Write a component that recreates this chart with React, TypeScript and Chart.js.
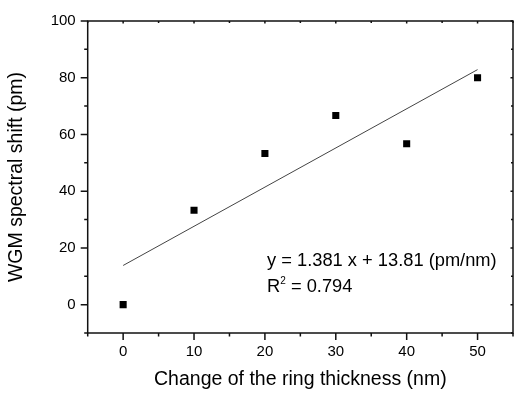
import React, { useEffect, useRef } from "react";
import { Chart, registerables } from "chart.js";

Chart.register(...registerables);

// Data
const thickness = [0, 10, 20, 30, 40, 50];
const shift = [0, 33.3, 53.3, 66.7, 56.7, 80];
const fitX = [0, 50];
const fitY = [13.81, 82.86];

// Axis ticks
const xMajor = [0, 10, 20, 30, 40, 50];
const xMinor = [-5, 5, 15, 25, 35, 45, 55];
const yMajor = [0, 20, 40, 60, 80, 100];
const yMinor = [-10, 10, 30, 50, 70, 90];

const xTitle = "Change of the ring thickness (nm)";
const yTitle = "WGM spectral shift (pm)";
const eqLine1 = "y = 1.381 x + 13.81 (pm/nm)";
const eqLine2a = "R";
const eqLine2sup = "2";
const eqLine2b = " = 0.794";
const eqAnchor = { x: 20.3, y: 13.7 };

const FONT = "'Liberation Sans', Arial, sans-serif";

const framePlugin = {
  id: "frame",
  afterDraw(chart: any) {
    const { ctx, chartArea: ca, scales } = chart;
    const xs = scales.x;
    const ys = scales.y;
    ctx.save();
    ctx.strokeStyle = "#111";
    ctx.lineWidth = 1.5;
    ctx.strokeRect(ca.left, ca.top, ca.right - ca.left, ca.bottom - ca.top);
    ctx.beginPath();
    const tickX = (v: number, len: number, inLen: number) => {
      const px = xs.getPixelForValue(v);
      ctx.moveTo(px, ca.bottom);
      ctx.lineTo(px, ca.bottom + len);
      ctx.moveTo(px, ca.top);
      ctx.lineTo(px, ca.top + inLen);
    };
    const tickY = (v: number, len: number, inLen: number) => {
      const py = ys.getPixelForValue(v);
      ctx.moveTo(ca.left, py);
      ctx.lineTo(ca.left - len, py);
      ctx.moveTo(ca.right, py);
      ctx.lineTo(ca.right - inLen, py);
    };
    xMajor.forEach((v) => tickX(v, 7, 2.5));
    xMinor.forEach((v) => tickX(v, 3.5, 2));
    yMajor.forEach((v) => tickY(v, 7, 2.5));
    yMinor.forEach((v) => tickY(v, 3.5, 2));
    ctx.stroke();

    // equation annotation
    const ax = xs.getPixelForValue(eqAnchor.x);
    const ay = ys.getPixelForValue(eqAnchor.y);
    ctx.fillStyle = "#000";
    ctx.textBaseline = "alphabetic";
    ctx.textAlign = "left";
    ctx.font = `18.3px ${FONT}`;
    ctx.fillText(eqLine1, ax, ay);
    const y2 = ay + 26;
    ctx.fillText(eqLine2a, ax, y2);
    let cx = ax + ctx.measureText(eqLine2a).width;
    ctx.font = `10px ${FONT}`;
    ctx.fillText(eqLine2sup, cx, y2 - 8);
    cx += ctx.measureText(eqLine2sup).width;
    ctx.font = `18.3px ${FONT}`;
    ctx.fillText(eqLine2b, cx, y2);
    ctx.restore();
  },
};

export default function App() {
  const ref = useRef<HTMLCanvasElement>(null);
  useEffect(() => {
    if (!ref.current) return;
    const chart = new Chart(ref.current, {
      type: "scatter",
      data: {
        datasets: [
          {
            label: "data",
            data: thickness.map((x, i) => ({ x, y: shift[i] })),
            pointStyle: "rect",
            pointRadius: 5,
            backgroundColor: "#000",
            borderWidth: 0,
            showLine: false,
          },
          {
            label: "fit",
            data: fitX.map((x, i) => ({ x, y: fitY[i] })),
            showLine: true,
            pointRadius: 0,
            borderColor: "#444",
            borderWidth: 1,
          },
        ],
      },
      options: {
        animation: false,
        responsive: false,
        devicePixelRatio: 1,
        layout: { padding: { left: 0, top: 16.5, right: 2.3, bottom: 0 } },
        plugins: { legend: { display: false }, tooltip: { enabled: false } },
        scales: {
          x: {
            type: "linear",
            min: -5,
            max: 55,
            afterBuildTicks: (s: any) => {
              s.ticks = xMajor.map((v) => ({ value: v }));
            },
            afterFit: (s: any) => {
              s.height = 61;
            },
            grid: { display: false, drawTicks: false },
            border: { display: false },
            ticks: {
              color: "#000",
              font: { family: FONT, size: 15 },
              padding: 10,
              maxRotation: 0,
            },
            title: {
              display: true,
              text: xTitle,
              color: "#000",
              font: { family: FONT, size: 19.5 },
              padding: { top: 0, bottom: 2.5 },
            },
          },
          y: {
            type: "linear",
            min: -10,
            max: 100,
            afterBuildTicks: (s: any) => {
              s.ticks = yMajor.map((v) => ({ value: v }));
            },
            afterFit: (s: any) => {
              s.width = 87.7;
            },
            grid: { display: false, drawTicks: false },
            border: { display: false },
            ticks: {
              color: "#000",
              font: { family: FONT, size: 15 },
              padding: 12,
            },
            title: {
              display: true,
              text: yTitle,
              color: "#000",
              font: { family: FONT, size: 19.5 },
              padding: { top: 5, bottom: 0 },
            },
          },
        },
      },
      plugins: [framePlugin],
    });
    return () => chart.destroy();
  }, []);
  return (
    <div style={{ position: "fixed", left: 0, top: 0, width: 518, height: 394, background: "#fff" }}>
      <canvas ref={ref} width={518} height={394} style={{ display: "block" }} />
    </div>
  );
}
